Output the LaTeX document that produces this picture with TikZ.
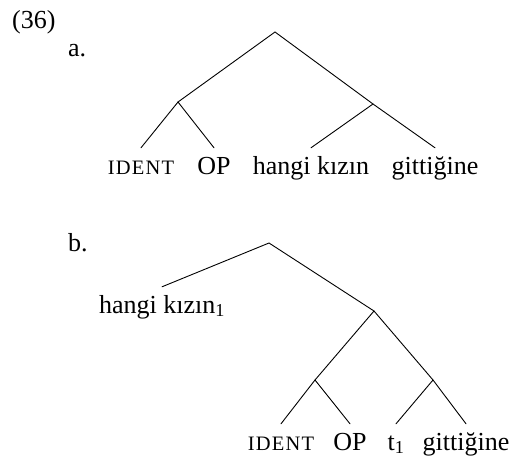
\documentclass[tikz,border=0pt]{standalone}
\usepackage{fontspec}
\setmainfont{Liberation Serif}
\newfontfamily\scfont[LetterSpace=6]{Liberation Serif}
\newcommand{\smcp}[1]{{\fontsize{20.5}{24}\scfont #1}}
\begin{document}
\begin{tikzpicture}[x=1pt,y=-1pt,
  leaf/.style={anchor=base, inner xsep=0pt, inner ysep=9pt, text height=17pt, text depth=5pt,
    font=\fontsize{26}{30}\selectfont},
  lbl/.style={anchor=base west, inner sep=0pt, font=\fontsize{26}{30}\selectfont},
  branch/.style={line width=0.9pt, line cap=round}]
\useasboundingbox (0,0) rectangle (513,457);
% labels
\node[lbl] (ex) at (12,29) {(36)};
\node[lbl] (la) at (68,57) {a.};
\node[lbl] (lb) at (68,251) {b.};
% tree a
\coordinate (aR) at (275,32);
\coordinate (aL) at (178,102);
\coordinate (aRR) at (373,104);
\node[leaf] (a1) at (141,174) {\smcp{IDENT}};
\node[leaf] (a2) at (214,174) {OP};
\node[leaf] (a3) at (311,174) {hangi kızın};
\node[leaf] (a4) at (435,174) {gittiğine};
\draw[branch] (aL) -- (aR) -- (aRR) -- (a4.north);
\draw[branch] (a1.north) -- (aL) -- (a2.north);
\draw[branch] (aRR) -- (a3.north);
% tree b
\coordinate (bR) at (269,243);
\coordinate (bM) at (374,311);
\coordinate (bL) at (315,380);
\coordinate (bRR) at (433,380);
\node[leaf] (b0) at (162,313) {hangi kızın\textsubscript{1}};
\node[leaf] (b1) at (281,450) {\smcp{IDENT}};
\node[leaf] (b2) at (350,450) {OP};
\node[leaf] (b3) at (396,450) {t\textsubscript{1}};
\node[leaf] (b4) at (466,450) {gittiğine};
\draw[branch] (b0.north) -- (bR) -- (bM) -- (bRR) -- (b4.north);
\draw[branch] (bM) -- (bL) -- (b1.north);
\draw[branch] (bL) -- (b2.north);
\draw[branch] (bRR) -- (b3.north);
\end{tikzpicture}
\end{document}
